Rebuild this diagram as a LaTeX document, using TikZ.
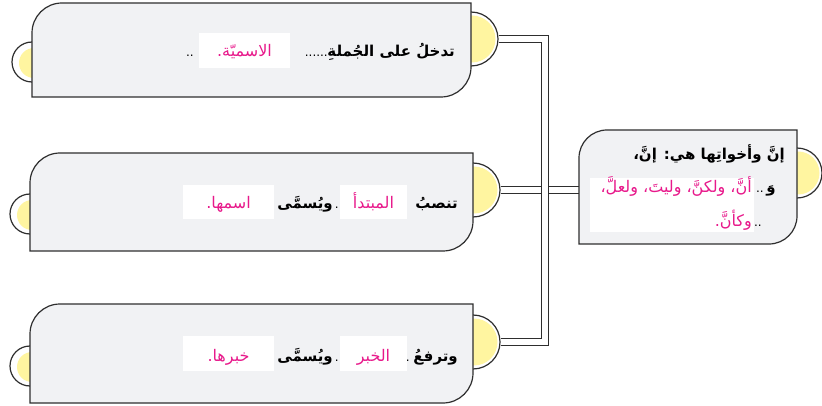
\documentclass[tikz,border=0pt]{standalone}
\usepackage{fontspec}
\newfontfamily\arabicfont[Script=Arabic]{DejaVu Sans}
\TeXXeTstate=1
\definecolor{boxgray}{HTML}{F1F2F4}
\definecolor{edge}{HTML}{2E2E2E}
\definecolor{knobyellow}{HTML}{FFF5A0}
\definecolor{answer}{HTML}{E8198B}
\tikzset{
 panel/.style={fill=boxgray, draw=edge, line width=1.2pt},
 knob/.style={circle, fill=white, draw=edge, line width=1.2pt, inner sep=0pt, minimum size=#1},
 knobfill/.style={circle, fill=knobyellow, inner sep=0pt, minimum size=#1},
 link/.style={draw=edge, line width=1.1pt, double=white, double distance=5.5pt},
 word/.style={inner sep=0pt, anchor=base east, font=\arabicfont\bfseries\fontsize{15}{18}\selectfont, text=black},
 dots/.style={inner sep=0pt, anchor=base east, font=\arabicfont\fontsize{12}{14}\selectfont, text=black},
 ans/.style={inner sep=0pt, font=\arabicfont\fontsize{16}{18}\selectfont, text=answer},
 blank/.style={fill=white, inner sep=0pt}
}
\begin{document}
\begin{tikzpicture}[x=1pt,y=-1pt]
\useasboundingbox (0,0) rectangle (822,406);
\coordinate (cbw) at (579,190);
\coordinate (bus) at (545,190);
% left knobs
\node[knob=40pt] (k1l) at (32,62) {};
\node[knobfill=30pt] (y1l) at (34,63) {};
\node[knob=40pt] (k2l) at (30,214) {};
\node[knobfill=30pt] (y2l) at (32,215) {};
\node[knob=40pt] (k3l) at (30,366) {};
\node[knobfill=30pt] (y3l) at (32,367) {};
% right knobs
\node[knob=54pt] (k1r) at (471,39) {};
\node[knobfill=47pt] (y1r) at (472,39) {};
\node[knob=54pt] (k2r) at (473,190) {};
\node[knobfill=47pt] (y2r) at (474,190) {};
\node[knob=54pt] (k3r) at (473,342) {};
\node[knobfill=47pt] (y3r) at (474,342) {};
\node[knob=50pt] (kcr) at (797,173) {};
\node[knobfill=43pt] (ycr) at (798,173) {};
% connectors
\draw[link] (k2r.east) -- (cbw);
\draw[link] (k1r.east) -| (bus) |- (k3r.east);
% panels
\draw[panel] (32,97) -- (32,33) arc[start angle=180,end angle=270,radius=30] -- (471,3) -- (471,67) arc[start angle=0,end angle=90,radius=30] -- cycle;
\draw[panel] (30,251) -- (30,183) arc[start angle=180,end angle=270,radius=30] -- (473,153) -- (473,221) arc[start angle=0,end angle=90,radius=30] -- cycle;
\draw[panel] (30,403) -- (30,334) arc[start angle=180,end angle=270,radius=30] -- (473,304) -- (473,373) arc[start angle=0,end angle=90,radius=30] -- cycle;
\draw[panel] (579,244) -- (579,158) arc[start angle=180,end angle=270,radius=28] -- (797,130) -- (797,216) arc[start angle=0,end angle=90,radius=28] -- cycle;
% dots
\node[dots] (d1a) at (328,57) {......};
\node[dots] (d1b) at (194,57) {..};
\node[dots] (d2a) at (339,209) {.};
\node[dots] (d3a) at (410,361) {.};
\node[dots] (d3b) at (339,361) {.};
\node[dots] (dc2) at (764,193) {..};
\node[dots] (dc3) at (762,226) {..};
% blanks
\node[blank, minimum width=91pt, minimum height=35pt] (b1) at (244.5,50.5) {};
\node[blank, minimum width=67pt, minimum height=34pt] (b2a) at (373.5,202) {};
\node[blank, minimum width=91pt, minimum height=34pt] (b2b) at (228.5,202) {};
\node[blank, minimum width=67pt, minimum height=35pt] (b3a) at (373.5,353.5) {};
\node[blank, minimum width=91pt, minimum height=35pt] (b3b) at (228.5,353.5) {};
\node[blank, minimum width=164pt, minimum height=54pt] (bc) at (672,205) {};
% black words
\node[word] (w1) at (455,57) {\beginR تدخلُ على الجُملةِ\endR};
\node[word] (w2a) at (458,209) {\beginR تنصبُ\endR};
\node[word] (w2b) at (333,209) {\beginR ويُسمَّى\endR};
\node[word] (w3a) at (458,361) {\beginR وترفعُ\endR};
\node[word] (w3b) at (333,361) {\beginR ويُسمَّى\endR};
\node[word] (wc1) at (785,160) {\beginR إنَّ وأخواتِها هي: إنَّ،\endR};
\node[word] (wc2) at (776,193) {\beginR وَ\endR};
% answers
\node[ans, anchor=base] (a1) at (244.5,57) {\beginR الاسميّة.\endR};
\node[ans, anchor=base] (a2a) at (373.5,209) {\beginR المبتدأ\endR};
\node[ans, anchor=base] (a2b) at (228.5,209) {\beginR اسمها.\endR};
\node[ans, anchor=base] (a3a) at (373.5,361) {\beginR الخبر\endR};
\node[ans, anchor=base] (a3b) at (228.5,361) {\beginR خبرها.\endR};
\node[ans, anchor=base east] (ac1) at (752,193) {\beginR أنَّ، ولكنَّ، وليتَ، ولعلَّ،\endR};
\node[ans, anchor=base east] (ac2) at (752,226) {\beginR وكأنَّ.\endR};
\end{tikzpicture}
\end{document}
